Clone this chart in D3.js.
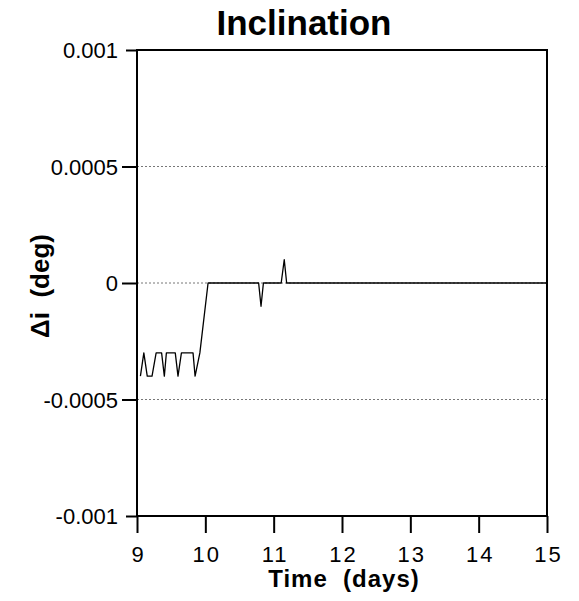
<!DOCTYPE html>
<html>
<head>
<meta charset="utf-8">
<script src="https://cdn.jsdelivr.net/npm/d3@7"></script>
<style>
  html, body { margin: 0; padding: 0; background: #fff; }
  svg { display: block; }
  text { font-family: "Liberation Sans", Arial, Helvetica, sans-serif; fill: #000; }
</style>
</head>
<body>
<svg id="chart" width="579" height="601"></svg>
<script>
// ---- data ----
const title = "Inclination";
const xLabel = "Time  (days)";
const yLabel = "\u0394i  (deg)";
const xTicks = [9, 10, 11, 12, 13, 14, 15];
const yTicks = [0.001, 0.0005, 0, -0.0005, -0.001];
const yTickLabels = ["0.001", "0.0005", "0", "-0.0005", "-0.001"];
const gridValues = [0.0005, 0, -0.0005];
const timeDays = [9.05, 9.10, 9.15, 9.22, 9.28, 9.36, 9.40, 9.43, 9.56, 9.60, 9.65, 9.82, 9.85, 9.92, 10.04, 10.78, 10.815, 10.85, 11.11, 11.155, 11.19, 15];
const deltaI = [-0.0004, -0.0003, -0.0004, -0.0004, -0.0003, -0.0003, -0.0004, -0.0003, -0.0003, -0.0004, -0.0003, -0.0003, -0.0004, -0.0003, 0, 0, -0.0001, 0, 0, 0.0001, 0, 0];

// ---- layout ----
const L = 137, R = 547, T = 50, B = 516;
const svg = d3.select("#chart");
const x = d3.scaleLinear().domain([9, 15]).range([L, R]);
const y = d3.scaleLinear().domain([-0.001, 0.001]).range([B, T]);

// gridlines
svg.append("g").selectAll("line").data(gridValues).join("line")
  .attr("x1", L).attr("x2", R)
  .attr("y1", d => y(d)).attr("y2", d => y(d))
  .attr("stroke", "#777").attr("stroke-width", 1)
  .attr("stroke-dasharray", "2,2");

// data line
const pts = timeDays.map((t, i) => [t, deltaI[i]]);
svg.append("path")
  .datum(pts)
  .attr("fill", "none")
  .attr("stroke", "#000")
  .attr("stroke-width", 1.3)
  .attr("stroke-linejoin", "round")
  .attr("d", d3.line().x(d => x(d[0])).y(d => y(d[1])));

// frame
svg.append("rect")
  .attr("x", L).attr("y", T).attr("width", R - L).attr("height", B - T)
  .attr("fill", "none").attr("stroke", "#000").attr("stroke-width", 2);

// bottom axis
const xAxis = d3.axisBottom(x).tickValues(xTicks).tickSize(17).tickFormat(d3.format("d"));
const gx = svg.append("g").attr("transform", `translate(0,${B})`).call(xAxis);
gx.select(".domain").remove();
gx.selectAll(".tick line").attr("stroke", "#000").attr("stroke-width", 2);
gx.selectAll(".tick text")
  .attr("y", 46).attr("dy", 0)
  .style("font-size", "22px")
  .style("letter-spacing", "2px")
  .attr("dx", "1px")
  .attr("fill", "#000");

// left axis
const yAxis = d3.axisLeft(y).tickValues(yTicks).tickSize(14)
  .tickFormat((d, i) => yTickLabels[i]);
const gy = svg.append("g").attr("transform", `translate(${L},0)`).call(yAxis);
gy.select(".domain").remove();
gy.selectAll(".tick line").attr("stroke", "#000").attr("stroke-width", 2)
  .attr("x2", (d) => (d === 0.001 || d === -0.001) ? -11 : -15);
gy.selectAll(".tick text")
  .attr("x", -19).attr("dy", "0.36em")
  .style("font-size", "22px")
  .attr("fill", "#000");

// title
svg.append("text")
  .attr("x", 304).attr("y", 35)
  .attr("text-anchor", "middle")
  .style("font-size", "35px").style("font-weight", "bold")
  .text(title);

// x-axis label
svg.append("text")
  .attr("x", 344).attr("y", 587)
  .attr("text-anchor", "middle")
  .style("font-size", "24px").style("font-weight", "bold")
  .style("letter-spacing", "1px")
  .style("white-space", "pre")
  .text(xLabel);

// y-axis label
svg.append("text")
  .attr("transform", "translate(49,286) rotate(-90)")
  .attr("text-anchor", "middle")
  .style("font-size", "26px").style("font-weight", "bold")
  .style("white-space", "pre")
  .text(yLabel);
</script>
</body>
</html>
